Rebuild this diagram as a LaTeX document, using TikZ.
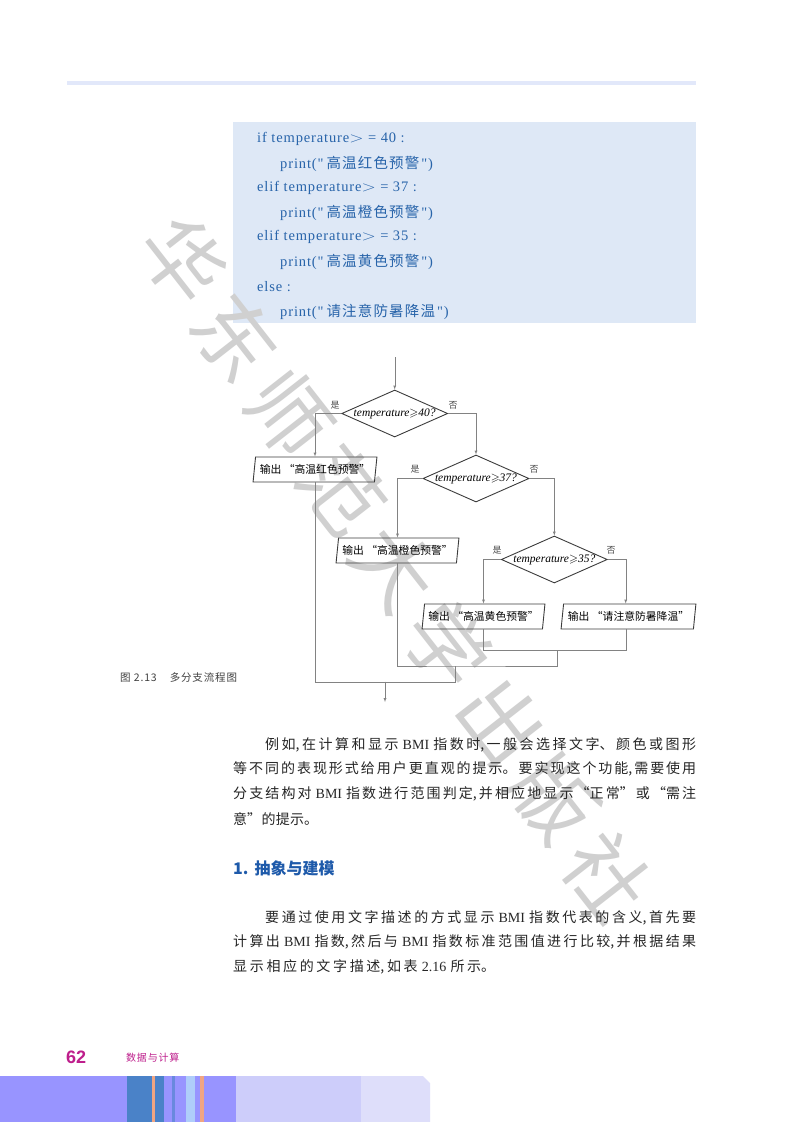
\documentclass[tikz,border=0pt]{standalone}
\usepackage{fontspec}
\setmainfont{Liberation Serif}
\setsansfont{Liberation Sans}
\newfontfamily\cjk{Noto Sans CJK SC}
\newfontfamily\codefont[LetterSpace=6]{Liberation Serif}
\newfontfamily\codecjk[LetterSpace=8]{Noto Sans CJK SC}
\newfontfamily\capcjk[LetterSpace=8]{Noto Sans CJK SC}
\usepackage{amssymb}
\usepackage{graphicx}
\usetikzlibrary{arrows}
\usetikzlibrary{shapes.geometric}
\definecolor{codeblue}{RGB}{222,232,246}
\definecolor{headbar}{RGB}{226,232,250}
\definecolor{codetext}{RGB}{40,100,170}
\definecolor{headblue}{RGB}{30,90,170}
\definecolor{pagepink}{RGB}{190,30,140}
\definecolor{flowline}{RGB}{60,60,60}
\definecolor{joingrey}{RGB}{130,130,130}
\definecolor{wmgrey}{RGB}{208,208,208}
\definecolor{bandbase}{RGB}{152,148,255}
\definecolor{bandmid}{RGB}{205,205,250}
\definecolor{bandend}{RGB}{222,222,250}
\definecolor{banddark}{RGB}{74,130,200}
\definecolor{bandlight}{RGB}{175,205,250}
\definecolor{bandorange}{RGB}{240,165,130}
\newcommand{\gtmark}{\scalebox{1.3}[1]{$>$}}
\newcommand{\ltn}[1]{{\rmfamily #1}}
\newcommand{\codemsg}[1]{print("\kern3pt{\codecjk #1}\kern2pt")}
\tikzset{
  decision/.style={diamond,draw=flowline,line width=.9pt,aspect=2.25,inner sep=0pt,minimum width=106pt,minimum height=47pt,font=\itshape\fontsize{11.5}{11.5}\selectfont},
  output/.style={trapezium,trapezium stretches=true,draw=flowline,line width=.9pt,trapezium left angle=77,trapezium right angle=103,inner sep=0pt,minimum height=25pt,font=\cjk\fontsize{10.8}{10.8}\selectfont},
  branch/.style={font=\cjk\fontsize{9}{9}\selectfont,text=black!70},
  flow/.style={draw=joingrey,->,>=latex},
  joinline/.style={draw=joingrey},
  codeline/.style={anchor=west,text=codetext,font=\codefont\fontsize{14.5}{14.5}\selectfont,inner sep=0pt,yshift=-1.5pt},
  bodyline/.style={anchor=west,align=justify,inner sep=0pt,text=black!85,font=\cjk\fontsize{14}{14}\selectfont,
    execute at begin node={\XeTeXlinebreaklocale "zh"\XeTeXlinebreakskip=0pt plus 4pt minus .5pt\tolerance=9999\parfillskip=0pt\relax}},
  markchar/.style={text=wmgrey,font=\cjk\fontsize{82}{82}\selectfont,rotate=-52,inner sep=0pt}
}
\begin{document}
\begin{tikzpicture}[x=1pt,y=-1pt]
  \useasboundingbox (0,0) rectangle (800,1122);
  \fill[white] (0,0) rectangle (800,1122);

  % head and code block
  \fill[headbar] (67,81) rectangle (696,85);
  \fill[codeblue] (233,122) rectangle (696,323);
  \node[codeline] (c1) at (257,137) {if temperature\gtmark\ = 40 :};
  \node[codeline] (c2) at (280,162) {\codemsg{高温红色预警}};
  \node[codeline] (c3) at (257,186) {elif temperature\gtmark\ = 37 :};
  \node[codeline] (c4) at (280,211) {\codemsg{高温橙色预警}};
  \node[codeline] (c5) at (257,235) {elif temperature\gtmark\ = 35 :};
  \node[codeline] (c6) at (280,260) {\codemsg{高温黄色预警}};
  \node[codeline] (c7) at (257,285) {else :};
  \node[codeline] (c8) at (280,310) {\codemsg{请注意防暑降温}};

  % watermark
  \foreach \ch/\px/\py in {华/183/260,东/236/337,师/289/414,范/342/491,大/395/568,学/448/645,出/501/722,版/554/799,社/607/877}
    \node[markchar] at (\px,\py) {\ch};

  % flowchart
  \coordinate (start) at (394.7,357);
  \node[decision] (d1) at (394.7,413.5) {temperature$\geqslant$40?};
  \node[decision] (d2) at (476,478.5) {temperature$\geqslant$37?};
  \node[decision] (d3) at (554.3,559.5) {temperature$\geqslant$35?};
  \node[output,minimum width=124pt] (p1) at (315,469.5) {输出 “高温红色预警”};
  \node[output,minimum width=123pt] (p2) at (397.5,550.5) {输出 “高温橙色预警”};
  \node[output,minimum width=123pt] (p3) at (483.5,616.5) {输出 “高温黄色预警”};
  \node[output,minimum width=135pt] (p4) at (628.5,616.5) {输出 “请注意防暑降温”};
  \coordinate (join1) at (556.7,649.7);
  \coordinate (join2) at (455,666);
  \coordinate (join3) at (385,681.7);
  \coordinate (stop) at (385,702);

  \draw[flow] (start) -- (d1.north);
  \draw[flow] (d1.west) -| (p1.north);
  \draw[flow] (d1.east) -| (d2.north);
  \draw[flow] (d2.west) -| (p2.north);
  \draw[flow] (d2.east) -| (d3.north);
  \draw[flow] (d3.west) -| (p3.north);
  \draw[flow] (d3.east) -| ([xshift=-2.8pt]p4.north);
  \draw[joinline] (p3.south) |- (join1) -| ([xshift=-2.8pt]p4.south);
  \draw[joinline] (p2.south) |- (join2) -| (join1);
  \draw[joinline] (p1.south) |- (join3) -| (join2);
  \draw[flow] (join3) -- (stop);

  \node[branch] (y1) at (335,405) {是};
  \node[branch] (n1) at (453,405) {否};
  \node[branch] (y2) at (415,469) {是};
  \node[branch] (n2) at (534,469) {否};
  \node[branch] (y3) at (497,550) {是};
  \node[branch] (n3) at (611,550) {否};

  % caption
  \node[anchor=west,inner sep=0pt,text=black!75,font=\capcjk\fontsize{10.5}{10.5}\selectfont] (cap) at (120,678) {图 2.13\hspace{13pt}多分支流程图};

  % body text
  \node[bodyline,text width=431pt] (b1) at (265,745) {例如,在计算和显示 \ltn{BMI} 指数时,一般会选择文字、颜色或图形};
  \node[bodyline,text width=463pt] (b2) at (233,769) {等不同的表现形式给用户更直观的提示。要实现这个功能,需要使用};
  \node[bodyline,text width=463pt] (b3) at (233,794) {分支结构对 \ltn{BMI} 指数进行范围判定,并相应地显示“正常”或“需注};
  \node[bodyline,text width=85pt] (b4) at (233,819) {意”的提示。};
  \node[anchor=west,inner sep=0pt,text=headblue,font=\cjk\bfseries\fontsize{16}{16}\selectfont] (h1) at (233,868) {1.\hspace{6pt}抽象与建模};
  \node[bodyline,text width=431pt] (b5) at (265,918) {要通过使用文字描述的方式显示 \ltn{BMI} 指数代表的含义,首先要};
  \node[bodyline,text width=463pt] (b6) at (233,942) {计算出 \ltn{BMI} 指数,然后与 \ltn{BMI} 指数标准范围值进行比较,并根据结果};
  \node[bodyline,text width=262pt] (b7) at (233,967) {显示相应的文字描述,如表 \ltn{2.16} 所示。};

  % footer
  \node[anchor=west,inner sep=0pt,text=pagepink,font=\sffamily\bfseries\fontsize{18}{18}\selectfont] (pg) at (66,1057) {62};
  \node[anchor=west,inner sep=0pt,text=pagepink,font=\capcjk\fontsize{10}{10}\selectfont] (ft) at (126,1058) {数据与计算};
  \fill[bandend] (361,1076) -- (423,1076) -- (430,1083) -- (430,1122) -- (361,1122) -- cycle;
  \fill[bandmid] (236,1076) rectangle (361,1122);
  \fill[bandbase] (0,1076) rectangle (236,1122);
  \fill[banddark] (127,1076) rectangle (164,1122);
  \fill[bandorange] (152,1076) rectangle (155,1122);
  \fill[bandlight] (186,1076) rectangle (195,1122);
  \fill[bandorange] (200,1076) rectangle (204,1122);
  \fill[banddark!60!bandbase] (172,1076) rectangle (175,1122);
\end{tikzpicture}
\end{document}
